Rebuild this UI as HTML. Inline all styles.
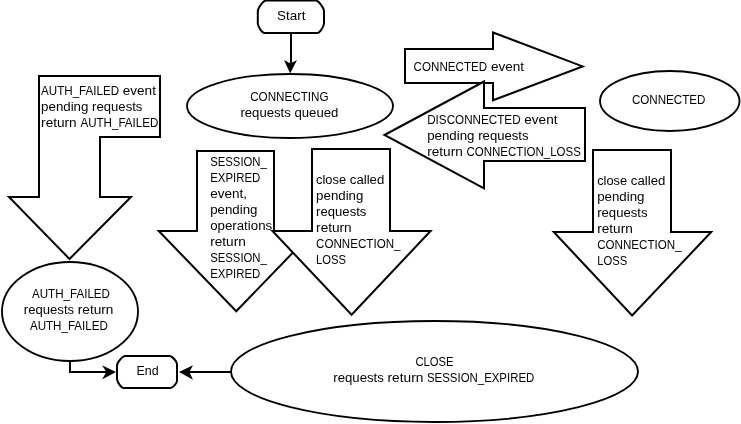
<!DOCTYPE html>
<html><head><meta charset="utf-8"><title>ZooKeeper client state diagram</title>
<style>
html,body{margin:0;padding:0;background:#fff;}
svg{display:block;}
text{font-family:"Liberation Sans",sans-serif;font-size:12.5px;fill:#000;}
.s{fill:#fff;stroke:#000;stroke-width:2;stroke-linejoin:miter;}
.l{fill:none;stroke:#000;stroke-width:2;}
ellipse.s{stroke-width:1.85;}
.a{fill:#000;stroke:none;}
.t{position:absolute;left:0;top:0;will-change:transform;}
</style></head><body>
<svg width="741" height="424" viewBox="0 0 741 424">
<rect x="0" y="0" width="741" height="424" fill="#fff"/>
<g>
<polygon class="s" points="39,76 160,76 160,137 100,137 100,197 131,197 69.5,259 9,197 39,197"/>
<ellipse class="s" cx="70" cy="311.5" rx="68" ry="49.5"/>
<path class="s" d="M125.30,356.00 L169.50,356.00 C171.97,356.00 177.00,361.36 177.00,364.00 L177.00,381.00 C177.00,383.31 172.65,388.00 170.50,388.00 L123.50,388.00 C121.36,388.00 117.00,381.97 117.00,379.00 L117.00,365.50 C117.00,362.37 122.56,356.00 125.30,356.00 Z"/>
<path class="s" d="M266.10,0.40 L315.70,0.40 C318.44,0.40 324.00,7.77 324.00,11.40 L324.00,23.50 C324.00,26.60 319.64,32.90 317.50,32.90 L264.30,32.90 C262.16,32.90 257.80,26.60 257.80,23.50 L257.80,11.40 C257.80,7.77 263.36,0.40 266.10,0.40 Z"/>
<line class="l" x1="291" y1="33" x2="291" y2="65"/>
<polygon class="a" points="284,60 290.5,63.5 297,60 290.2,73.5"/>
<ellipse class="s" cx="290" cy="106" rx="103" ry="32"/>
<polygon class="s" points="197,151 274,151 274,231 313.75,231 236.25,311.25 158.75,231 197,231"/>
<polygon class="s" points="312,149 390,149 390,231 430.6,231 351.6,314.7 272.5,231 312,231"/>
<polygon class="s" points="593,150 671,150 671,232 711.25,232 632.1,315.5 553.75,232 593,232"/>
<polygon class="s" points="405,49 493,49 493,32.5 582.6,66.4 493,100.3 493,83 405,83"/>
<polygon class="s" points="384.5,135 484,81.5 484,108 585,108 585,161 484,161 484,188.3"/>
<ellipse class="s" cx="669.75" cy="101" rx="69.75" ry="30"/>
<ellipse class="s" cx="434.5" cy="371.5" rx="203.5" ry="50.5"/>
<line class="l" x1="231" y1="372" x2="187" y2="372"/>
<polygon class="a" points="193,365.3 189.4,372 193,379.7 179,372"/>
<polyline class="l" points="70,360 70,372 108,372"/>
<polygon class="a" points="102.1,365.2 106.3,372 102.1,379.6 115.9,372"/>
</g>
</svg>
<svg class="t" width="741" height="424" viewBox="0 0 741 424">
<text x="41.10" y="95.30" textLength="77.99" lengthAdjust="spacingAndGlyphs">AUTH_FAILED</text>
<text x="122.79" y="95.30" textLength="33.16" lengthAdjust="spacingAndGlyphs">event</text>
<text x="41.10" y="111.30" textLength="47.32" lengthAdjust="spacingAndGlyphs">pending</text>
<text x="92.12" y="111.30" textLength="50.32" lengthAdjust="spacingAndGlyphs">requests</text>
<text x="41.10" y="127.30" textLength="35.60" lengthAdjust="spacingAndGlyphs">return</text>
<text x="80.40" y="127.30" textLength="77.99" lengthAdjust="spacingAndGlyphs">AUTH_FAILED</text>
<text x="32.00" y="297.50" textLength="77.99" lengthAdjust="spacingAndGlyphs">AUTH_FAILED</text>
<text x="23.80" y="313.50" textLength="50.32" lengthAdjust="spacingAndGlyphs">requests</text>
<text x="77.81" y="313.50" textLength="35.60" lengthAdjust="spacingAndGlyphs">return</text>
<text x="29.90" y="329.50" textLength="77.99" lengthAdjust="spacingAndGlyphs">AUTH_FAILED</text>
<text x="136.44" y="374.70" textLength="22.13" lengthAdjust="spacingAndGlyphs">End</text>
<text x="276.98" y="19.50" textLength="28.45" lengthAdjust="spacingAndGlyphs">Start</text>
<text x="250.17" y="101.00" textLength="78.46" lengthAdjust="spacingAndGlyphs">CONNECTING</text>
<text x="240.46" y="117.00" textLength="50.32" lengthAdjust="spacingAndGlyphs">requests</text>
<text x="294.48" y="117.00" textLength="43.86" lengthAdjust="spacingAndGlyphs">queued</text>
<text x="210.20" y="166.00" textLength="56.65" lengthAdjust="spacingAndGlyphs">SESSION_</text>
<text x="210.20" y="182.00" textLength="50.20" lengthAdjust="spacingAndGlyphs">EXPIRED</text>
<text x="210.20" y="198.00" textLength="36.86" lengthAdjust="spacingAndGlyphs">event,</text>
<text x="210.20" y="214.00" textLength="47.32" lengthAdjust="spacingAndGlyphs">pending</text>
<text x="210.20" y="230.00" textLength="61.96" lengthAdjust="spacingAndGlyphs">operations</text>
<text x="210.20" y="246.00" textLength="35.60" lengthAdjust="spacingAndGlyphs">return</text>
<text x="210.20" y="262.00" textLength="56.65" lengthAdjust="spacingAndGlyphs">SESSION_</text>
<text x="210.20" y="278.00" textLength="50.20" lengthAdjust="spacingAndGlyphs">EXPIRED</text>
<text x="316.10" y="184.00" textLength="29.99" lengthAdjust="spacingAndGlyphs">close</text>
<text x="349.79" y="184.00" textLength="34.56" lengthAdjust="spacingAndGlyphs">called</text>
<text x="316.10" y="200.00" textLength="47.32" lengthAdjust="spacingAndGlyphs">pending</text>
<text x="316.10" y="216.00" textLength="50.32" lengthAdjust="spacingAndGlyphs">requests</text>
<text x="316.10" y="232.00" textLength="35.60" lengthAdjust="spacingAndGlyphs">return</text>
<text x="316.10" y="248.00" textLength="84.42" lengthAdjust="spacingAndGlyphs">CONNECTION_</text>
<text x="316.10" y="264.00" textLength="30.01" lengthAdjust="spacingAndGlyphs">LOSS</text>
<text x="597.20" y="185.00" textLength="29.99" lengthAdjust="spacingAndGlyphs">close</text>
<text x="630.89" y="185.00" textLength="34.56" lengthAdjust="spacingAndGlyphs">called</text>
<text x="597.20" y="201.00" textLength="47.32" lengthAdjust="spacingAndGlyphs">pending</text>
<text x="597.20" y="217.00" textLength="50.32" lengthAdjust="spacingAndGlyphs">requests</text>
<text x="597.20" y="233.00" textLength="35.60" lengthAdjust="spacingAndGlyphs">return</text>
<text x="597.20" y="249.00" textLength="84.42" lengthAdjust="spacingAndGlyphs">CONNECTION_</text>
<text x="597.20" y="265.00" textLength="30.01" lengthAdjust="spacingAndGlyphs">LOSS</text>
<text x="413.60" y="71.00" textLength="73.61" lengthAdjust="spacingAndGlyphs">CONNECTED</text>
<text x="490.93" y="71.00" textLength="33.16" lengthAdjust="spacingAndGlyphs">event</text>
<text x="427.20" y="124.10" textLength="93.41" lengthAdjust="spacingAndGlyphs">DISCONNECTED</text>
<text x="524.31" y="124.10" textLength="33.16" lengthAdjust="spacingAndGlyphs">event</text>
<text x="427.20" y="140.20" textLength="47.32" lengthAdjust="spacingAndGlyphs">pending</text>
<text x="478.22" y="140.20" textLength="50.32" lengthAdjust="spacingAndGlyphs">requests</text>
<text x="427.20" y="156.20" textLength="35.60" lengthAdjust="spacingAndGlyphs">return</text>
<text x="466.50" y="156.20" textLength="114.43" lengthAdjust="spacingAndGlyphs">CONNECTION_LOSS</text>
<text x="631.89" y="103.70" textLength="73.61" lengthAdjust="spacingAndGlyphs">CONNECTED</text>
<text x="415.45" y="365.70" textLength="38.10" lengthAdjust="spacingAndGlyphs">CLOSE</text>
<text x="333.32" y="381.90" textLength="50.53" lengthAdjust="spacingAndGlyphs">requests</text>
<text x="387.56" y="381.90" textLength="35.75" lengthAdjust="spacingAndGlyphs">return</text>
<text x="427.00" y="381.90" textLength="107.28" lengthAdjust="spacingAndGlyphs">SESSION_EXPIRED</text>
</svg>
</body></html>
